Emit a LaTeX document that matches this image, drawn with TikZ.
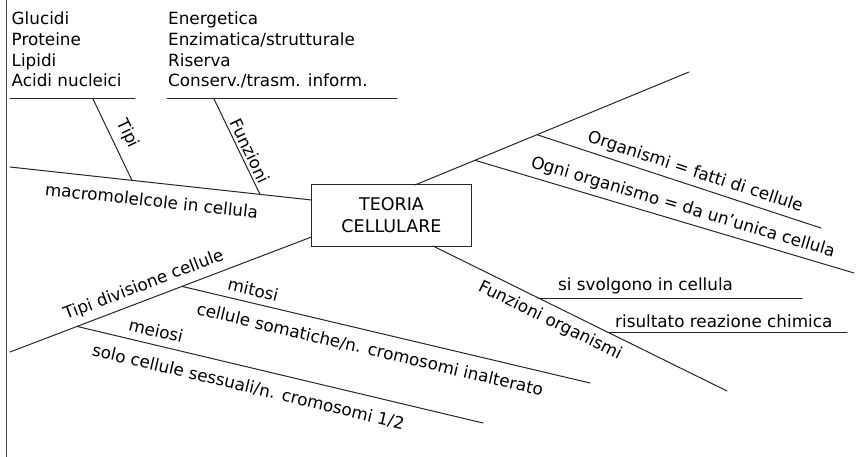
\documentclass[tikz,border=0pt]{standalone}
\usepackage{fontspec}
\setmainfont{DejaVu Sans}
\newcommand\lblfont{\fontsize{16.8}{20}\selectfont}
\newcommand\boxfont{\fontsize{17.5}{22}\selectfont}
\tikzset{
  ln/.style={line width=1pt, draw=black!85, line cap=round},
  lab/.style={font=\lblfont, inner sep=0pt, sloped, anchor=center},
  txt/.style={font=\lblfont, inner sep=0pt, anchor=base west},
  mainbox/.style={draw=black!85, line width=1pt, minimum width=160pt, minimum height=61pt,
    inner sep=0pt, align=center, font=\boxfont}
}
\begin{document}
\begin{tikzpicture}[x=1pt,y=-1pt]
\useasboundingbox (0,0) rectangle (856,457);
% left border
\coordinate (bt) at (6,0);
\coordinate (bb) at (6,457);
\draw[line width=1pt, draw=black!70] (bt) -- (bb);

% central box
\node[mainbox] (tc) at (391.5,215.5) {TEORIA\\CELLULARE};

% macromolecole branch
\coordinate (m0) at (10,167);
\coordinate (m1) at (311.5,200);
\coordinate (mt) at (132,180.4);
\coordinate (mf) at (260,194.4);
\coordinate (tp) at (93,99);
\coordinate (fp) at (214,99);
\coordinate (ut0) at (10,99);
\coordinate (ut1) at (135,99);
\coordinate (uf0) at (167,99);
\coordinate (uf1) at (397,99);
\draw[ln] (m0) -- node[lab, pos=0.4765, yshift=-18pt] (lmacro) {macromolelcole in cellula} (m1);
\draw[ln] (tp) -- node[lab, pos=0.512, yshift=16pt] (ltipi) {Tipi} (mt);
\draw[ln] (fp) -- node[lab, pos=0.59, yshift=10pt] (lfunz) {Funzioni} (mf);
\draw[ln] (ut0) -- (ut1);
\draw[ln] (uf0) -- (uf1);

\node[txt] (g1) at (11.5,25) {Glucidi};
\node[txt] (g2) at (11.5,45.7) {Proteine};
\node[txt] (g3) at (11.5,66.3) {Lipidi};
\node[txt] (g4) at (11.5,87) {Acidi nucleici};
\node[txt] (e1) at (168,25) {Energetica};
\node[txt] (e2) at (168,45.7) {Enzimatica/strutturale};
\node[txt] (e3) at (168,66.3) {Riserva};
\node[txt] (e4) at (168,87) {Conserv./trasm. inform.};

% upper right branch
\coordinate (r0) at (415,185);
\coordinate (r1) at (689,72);
\coordinate (rj1) at (475,160.3);
\coordinate (rj2) at (537,134.7);
\coordinate (o1) at (821,228);
\coordinate (o2) at (854,273);
\draw[ln] (r0) -- (r1);
\draw[ln] (rj2) -- node[lab, pos=0.542, yshift=13.5pt] (lorg) {Organismi = fatti di cellule} (o1);
\draw[ln] (rj1) -- node[lab, pos=0.538, yshift=13.9pt] (logni) {Ogni organismo = da un'unica cellula} (o2);

% lower right branch
\coordinate (f0) at (433,246);
\coordinate (f1) at (727,391);
\coordinate (fs) at (538.4,298);
\coordinate (fr) at (607.4,332);
\coordinate (s1) at (802,298);
\coordinate (rr1) at (847,332);
\draw[ln] (f0) -- node[lab, pos=0.421, yshift=-15.5pt] (lfo) {Funzioni organismi} (f1);
\draw[ln] (fs) -- (s1);
\draw[ln] (fr) -- (rr1);
\node[txt] (tsv) at (558,290) {si svolgono in cellula};
\node[txt] (tri) at (615,327) {risultato reazione chimica};

% lower left branch
\coordinate (d0) at (10,352);
\coordinate (d1) at (311.5,237);
\coordinate (dmi) at (182,286.4);
\coordinate (dme) at (77,326.4);
\coordinate (mi1) at (590,383);
\coordinate (me1) at (483,423);
\draw[ln] (d0) -- node[lab, pos=0.461, yshift=14.5pt] (ldiv) {Tipi divisione cellule} (d1);
\draw[ln] (dmi) -- node[lab, pos=0.167, yshift=13.3pt] (lmit) {mitosi}
   node[lab, pos=0.471, yshift=-18.3pt] (lsom) {cellule somatiche/n. cromosomi inalterato} (mi1);
\draw[ln] (dme) -- node[lab, pos=0.1865, yshift=14.3pt] (lmei) {meiosi}
   node[lab, pos=0.433, yshift=-19.4pt] (lses) {solo cellule sessuali/n. cromosomi 1/2} (me1);
\end{tikzpicture}
\end{document}
